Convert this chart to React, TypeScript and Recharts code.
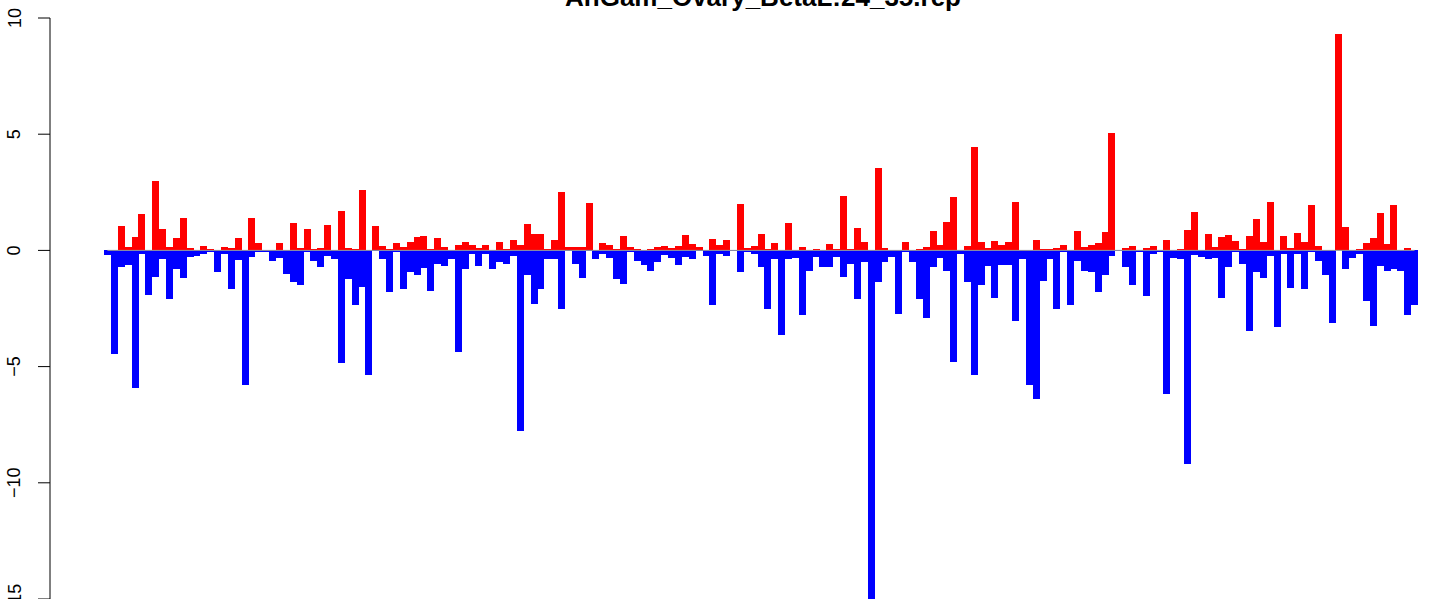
import React from "react";
import { BarChart, Bar, XAxis, YAxis, ReferenceLine } from "recharts";

const title = "AnGam_Ovary_BetaL:24_35.rep";

// red (positive) and blue (negative) values per position, read left to right
const upValues = [
  0, 0, 1.05, 0.15, 0.58, 1.57, 0, 2.99, 0.92, 0.15,
  0.54, 1.4, 0.11, 0, 0.19, 0.04, 0, 0.15, 0.11, 0.54,
  0, 1.4, 0.32, 0, 0, 0.32, 0.02, 1.18, 0.11, 0.92,
  0.06, 0.11, 1.1, 0.02, 1.7, 0.11, 0.06, 2.6, 0, 1.05,
  0.19, 0.04, 0.32, 0.15, 0.37, 0.58, 0.62, 0.06, 0.54, 0.15,
  0.02, 0.24, 0.37, 0.24, 0.11, 0.24, 0.02, 0.37, 0.06, 0.45,
  0.24, 1.14, 0.71, 0.71, 0.06, 0.45, 2.52, 0.15, 0.15, 0.15,
  2.04, 0, 0.32, 0.24, 0.06, 0.62, 0.15, 0.06, 0, 0.04,
  0.15, 0.19, 0.11, 0.19, 0.67, 0.28, 0.15, 0, 0.49, 0.24,
  0.45, 0, 2.0, 0.11, 0.19, 0.71, 0.06, 0.32, 0.02, 1.18,
  0.02, 0.15, 0, 0.06, 0, 0.28, 0.06, 2.34, 0.06, 0.97,
  0.37, 0, 3.55, 0.11, 0, 0, 0.37, 0, 0.06, 0.15,
  0.84, 0.24, 1.23, 2.3, 0, 0.19, 4.45, 0.37, 0.11, 0.41,
  0.24, 0.37, 2.08, 0.02, 0, 0.45, 0.06, 0.06, 0.11, 0.24,
  0.02, 0.84, 0.15, 0.24, 0.32, 0.8, 5.05, 0.02, 0.11, 0.19,
  0.02, 0.11, 0.19, 0, 0.45, 0, 0.06, 0.88, 1.66, 0,
  0.71, 0.15, 0.58, 0.67, 0.41, 0.06, 0.62, 1.35, 0.37, 2.09,
  0, 0.62, 0.11, 0.75, 0.37, 1.96, 0.19, 0, 0, 9.31,
  1.01, 0, 0.06, 0.32, 0.54, 1.61, 0.28, 1.96, 0, 0.11,
  0,
];

const downValues = [
  -0.19, -4.45, -0.7, -0.61, -5.92, -0.15, -1.9, -1.13, -0.38, -2.07,
  -0.81, -1.17, -0.27, -0.22, -0.14, -0.08, -0.95, -0.14, -1.68, -0.42,
  -5.8, -0.27, -0.09, -0.08, -0.44, -0.31, -1.0, -1.38, -1.47, -0.09,
  -0.44, -0.7, -0.22, -0.39, -4.85, -1.25, -2.37, -1.56, -5.34, -0.02,
  -0.39, -1.81, -0.08, -1.68, -0.95, -1.08, -0.74, -1.73, -0.57, -0.65,
  -0.35, -4.39, -0.78, -0.14, -0.65, -0.14, -0.78, -0.52, -0.57, -0.22,
  -7.76, -1.04, -2.29, -1.64, -0.39, -0.39, -2.5, -0.01, -0.57, -1.17,
  -0.01, -0.35, -0.14, -0.31, -1.25, -1.43, -0.08, -0.44, -0.61, -0.87,
  -0.48, -0.18, -0.31, -0.61, -0.27, -0.35, -0.01, -0.22, -2.37, -0.14,
  -0.22, -0.02, -0.91, -0.05, -0.14, -0.7, -2.54, -0.35, -3.66, -0.35,
  -0.31, -2.8, -0.87, -0.27, -0.7, -0.7, -0.27, -1.13, -0.57, -2.11,
  -0.48, -15.2, -1.34, -0.52, -0.27, -2.72, -0.09, -0.48, -2.11, -2.89,
  -0.7, -0.31, -0.87, -4.82, -0.14, -1.38, -5.38, -1.47, -0.65, -2.03,
  -0.61, -0.61, -3.02, -0.39, -5.81, -6.39, -1.3, -0.39, -2.54, -0.09,
  -2.33, -0.44, -0.87, -0.95, -1.81, -1.08, -0.22, -0.01, -0.7, -1.51,
  -0.05, -1.98, -0.14, -0.09, -6.2, -0.31, -0.39, -9.18, -0.18, -0.27,
  -0.39, -0.31, -2.03, -0.7, -0.09, -0.57, -3.45, -0.91, -1.17, -0.22,
  -3.28, -0.14, -1.6, -0.14, -1.64, -0.09, -0.44, -1.04, -3.11, 0,
  -0.82, -0.31, -0.14, -2.16, -3.24, -0.65, -0.87, -0.78, -0.87, -2.76,
  -2.33,
];

const yTicks = [-15, -10, -5, 0, 5, 10];

const data = upValues.map((up, i) => ({
  pos: String(i + 1),
  up,
  down: downValues[i],
}));

const FONT = "'Liberation Sans', Arial, Helvetica, sans-serif";

function RotatedTick(props: any) {
  const { x, y, payload } = props;
  const tx = x - 15.5;
  const label = payload.value < 0 ? "\u2212" + Math.abs(payload.value) : String(payload.value);
  return (
    <text
      x={tx}
      y={y}
      transform={`rotate(-90, ${tx}, ${y})`}
      textAnchor="middle"
      fontSize={18}
      fontFamily={FONT}
      fill="#000"
    >
      {label}
    </text>
  );
}

export default function App() {
  return (
    <div style={{ position: "absolute", left: 0, top: 0, width: 1433, height: 599, background: "#fff" }}>
      <BarChart
        width={1433}
        height={599}
        data={data}
        stackOffset="sign"
        barCategoryGap={0}
        barGap={0}
        margin={{ top: 18, right: 0, bottom: 0, left: 0 }}
      >
        <XAxis dataKey="pos" hide padding={{ left: 54, right: 15 }} />
        <YAxis
          width={50}
          domain={[-15, 10]}
          allowDataOverflow
          ticks={yTicks}
          interval={0}
          tickSize={12}
          tickLine={{ stroke: "#000", strokeWidth: 1 }}
          axisLine={{ stroke: "#000", strokeWidth: 1 }}
          tick={<RotatedTick />}
        />
        <ReferenceLine
          segment={[
            { x: data[0].pos, y: 0 },
            { x: data[data.length - 1].pos, y: 0 },
          ]}
          stroke="#999"
          strokeWidth={1}
        />
        <Bar dataKey="up" stackId="s" fill="#ff0000" shapeRendering="crispEdges" isAnimationActive={false} />
        <Bar dataKey="down" stackId="s" fill="#0000ff" shapeRendering="crispEdges" isAnimationActive={false} />
      </BarChart>
      <svg
        width={1433}
        height={30}
        style={{ position: "absolute", left: 0, top: 0 }}
      >
        <text
          x={763}
          y={6}
          textAnchor="middle"
          fontSize={26}
          fontWeight="bold"
          fontFamily={FONT}
          fill="#000"
        >
          {title}
        </text>
      </svg>
    </div>
  );
}
